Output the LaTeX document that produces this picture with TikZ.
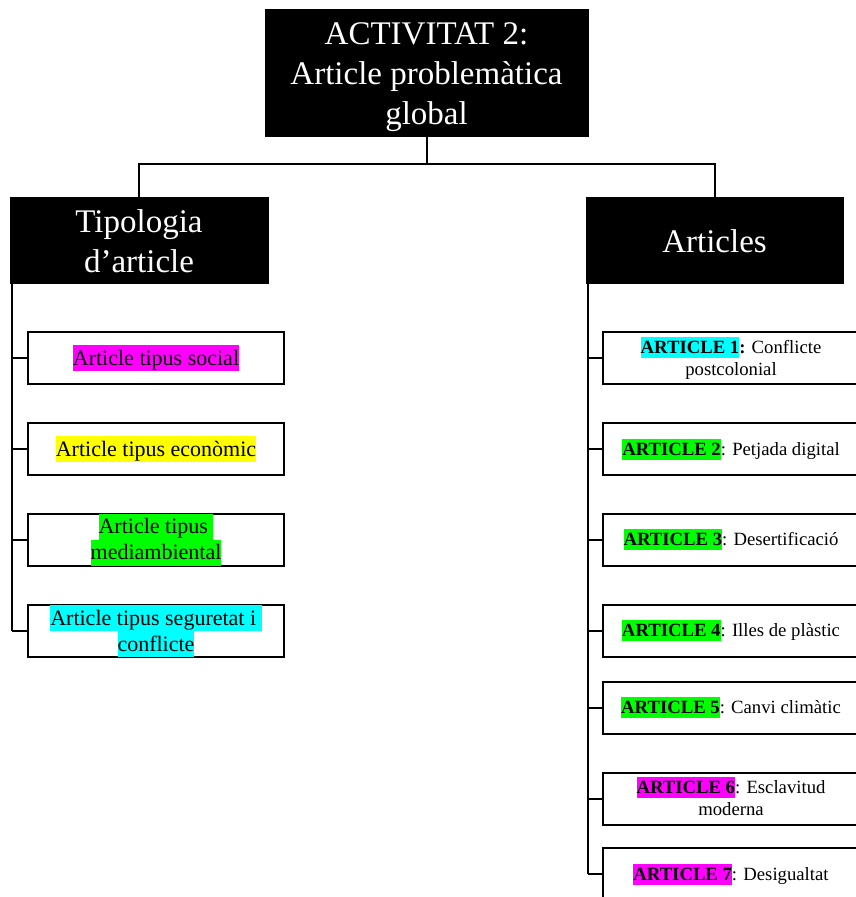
\documentclass[tikz,border=0pt]{standalone}
\usepackage{fontspec}
\setmainfont{Liberation Serif}

\definecolor{hlpink}{HTML}{FF00FF}
\definecolor{hlyellow}{HTML}{FFFF00}
\definecolor{hlgreen}{HTML}{00FF00}
\definecolor{hlcyan}{HTML}{00FFFF}

% puntals de línia (alçada i profunditat fixes)
\newcommand{\tstrut}{\rule[-7pt]{0pt}{39pt}}
\newcommand{\lstrut}{\rule[-6pt]{0pt}{26pt}}
\newcommand{\rstrut}{\rule[-4.5pt]{0pt}{21pt}}
\let\itemstrut\lstrut

% subratllat de color (com el del processador de textos)
\newcommand{\hl}[2]{{\setlength{\fboxsep}{0pt}\colorbox{#1}{\itemstrut#2}}}

\begin{document}
\begin{tikzpicture}[
  x=1pt,
  y=-1pt,
  blackbox/.style={draw=black, fill=black, text=white, align=center,
    inner sep=0pt, font=\fontsize{33}{40}\selectfont},
  itembox/.style={draw=black, line width=2pt, fill=white, align=center,
    inner sep=0pt, minimum width=256pt, minimum height=52pt},
  tipfont/.style={font=\fontsize{22}{26}\selectfont\let\itemstrut\lstrut},
  artfont/.style={font=\fontsize{18.7}{22}\selectfont\let\itemstrut\rstrut},
  conn/.style={line width=2pt, black}
]
\clip (0,0) rectangle (856,897);

%--------------------
% Caixes negres
%--------------------
\node[blackbox, minimum width=323pt, minimum height=127pt] (top) at (426.5,72.5)
  {\tstrut ACTIVITAT 2:\\\tstrut Article problemàtica\\\tstrut global};
\node[blackbox, minimum width=258pt, minimum height=86pt] (tipo) at (139,240)
  {\tstrut Tipologia\\\tstrut d’article};
\node[blackbox, minimum width=257pt, minimum height=86pt] (arts) at (714.5,240)
  {\tstrut Articles};

%--------------------
% Unió superior
%--------------------
\coordinate (bus) at (top.south |- 0,163.5);
\draw[conn] (top.south) -- (bus);
\draw[conn] (tipo.north) |- (bus) -| (arts.north);

%--------------------
% Tipologia d'article
%--------------------
\foreach \n/\yy/\txt in {
  1/358/{\hl{hlpink}{Article tipus social}},
  2/449/{\hl{hlyellow}{Article tipus econòmic}},
  3/539.5/{\hl{hlgreen}{Article tipus\ }\\\hl{hlgreen}{mediambiental}},
  4/631/{\hl{hlcyan}{Article tipus seguretat i\ }\\\hl{hlcyan}{conflicte}}} {
  \node[itembox, tipfont] (tip\n) at (156,\yy) {\txt};
}

\coordinate (spL) at ([xshift=2pt]tipo.south west);
\draw[conn] (spL) -- (spL |- tip4.west);
\foreach \n in {1,...,4} {
  \draw[conn] (spL |- tip\n.west) -- (tip\n.west);
}

%--------------------
% Articles
%--------------------
\foreach \n/\yy/\txt in {
  1/358/{\hl{hlcyan}{\textbf{ARTICLE 1}}\textbf{:} Conflicte\\\itemstrut postcolonial},
  2/449/{\hl{hlgreen}{\textbf{ARTICLE 2}}: Petjada digital},
  3/539.5/{\hl{hlgreen}{\textbf{ARTICLE 3}}: Desertificació},
  4/630.5/{\hl{hlgreen}{\textbf{ARTICLE 4}}: Illes de plàstic},
  5/707.5/{\hl{hlgreen}{\textbf{ARTICLE 5}}: Canvi climàtic},
  6/798.5/{\hl{hlpink}{\textbf{ARTICLE 6}}: Esclavitud\\\itemstrut moderna},
  7/874/{\hl{hlpink}{\textbf{ARTICLE 7}}: Desigualtat}} {
  \node[itembox, artfont] (art\n) at (731,\yy) {\txt};
}

\coordinate (spR) at ([xshift=2pt]arts.south west);
\draw[conn] (spR) -- (spR |- art7.west);
\foreach \n in {1,...,7} {
  \draw[conn] (spR |- art\n.west) -- (art\n.west);
}

\end{tikzpicture}
\end{document}
